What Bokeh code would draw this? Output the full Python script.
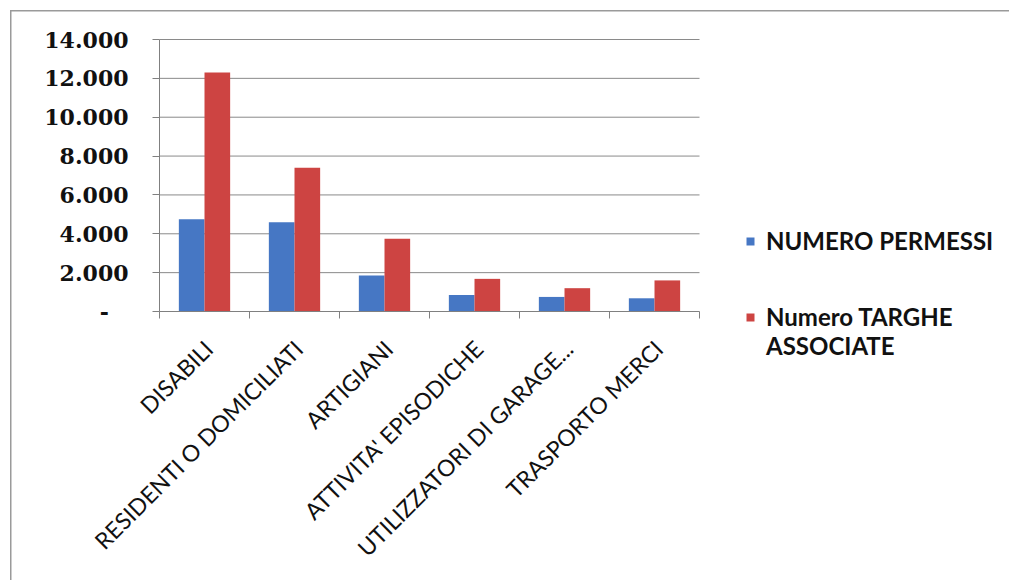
import numpy as np
from bokeh.plotting import figure
from bokeh.models import FixedTicker, Legend, LegendItem, Range1d, InlineStyleSheet
from bokeh.core.properties import value
from bokeh.embed import file_html
from bokeh.resources import INLINE

categories = ["DISABILI", "RESIDENTI O DOMICILIATI", "ARTIGIANI",
              "ATTIVITA' EPISODICHE", "UTILIZZATORI DI GARAGE...", "TRASPORTO MERCI"]
permessi = [4750, 4600, 1850, 850, 750, 680]
targhe = [12300, 7400, 3750, 1680, 1200, 1600]
series1_name = "NUMERO PERMESSI"
series2_lines = ["Numero TARGHE", "ASSOCIATE"]
y_ticks = [0, 2000, 4000, 6000, 8000, 10000, 12000, 14000]
y_tick_labels = ["-\u00a0\u00a0\u2009", "2.000", "4.000", "6.000", "8.000", "10.000", "12.000", "14.000"]

BLUE = "#4677c4"
RED = "#cd4442"
AXIS = "#808080"
GRID = "#8a8a8a"

# ---- layout (pixels) ----
W, H = 1009, 580
FL, FB = 30, 12              # left / bottom borders -> frame spans x 30..1009, y 0..568
AX_L, AX_R = 159, 699        # pixel span of the category axis
AX_T, AX_B = 39, 311         # pixel position of y max / y = 0
YMAX = 14000

n = len(categories)
centers = [i + 0.5 for i in range(n)]
bw = 0.285
ppx = (AX_R - AX_L) / n
ppy = (AX_B - AX_T) / YMAX
x_range = Range1d(-(AX_L - FL) / ppx, (W - AX_L) / ppx)
y_range = Range1d(-((H - FB) - AX_B) / ppy, YMAX + AX_T / ppy)

p = figure(width=W, height=H, x_range=x_range, y_range=y_range,
           output_backend="svg", toolbar_location=None,
           min_border_left=FL, min_border_right=0, min_border_top=0, min_border_bottom=FB)
p.outline_line_color = None
p.background_fill_alpha = 0
p.border_fill_alpha = 0
p.xgrid.grid_line_color = None
p.ygrid.grid_line_color = None

# horizontal gridlines, limited to the category span
grid_vals = y_ticks[1:]
p.segment(x0=[0] * len(grid_vals), x1=[n] * len(grid_vals), y0=grid_vals, y1=grid_vals,
          line_color=GRID, line_width=1)

r1 = p.vbar(x=[c - bw / 2 for c in centers], top=permessi, width=bw, fill_color=BLUE, line_color=None)
r2 = p.vbar(x=[c + bw / 2 for c in centers], top=targhe, width=bw, fill_color=RED, line_color=None)
blank = p.vbar(x=[], top=[], width=bw, fill_alpha=0, line_alpha=0)

# y axis (line + ticks at x = 0); labels drawn as text
p.yaxis.fixed_location = 0
p.yaxis.bounds = (0, YMAX)
p.yaxis.ticker = FixedTicker(ticks=y_ticks)
p.yaxis.major_label_text_font_size = "1px"
p.yaxis.major_label_text_alpha = 0
p.yaxis.major_label_standoff = 0
p.yaxis.major_tick_out = 7
p.yaxis.major_tick_in = 0
p.yaxis.major_tick_line_color = AXIS
p.yaxis.axis_line_color = AXIS
p.yaxis.minor_tick_line_color = None

# x axis (line + ticks between categories at y = 0)
p.xaxis.fixed_location = 0
p.xaxis.bounds = (0, n)
p.xaxis.ticker = FixedTicker(ticks=centers, minor_ticks=list(range(n + 1)))
p.xaxis.major_label_text_font_size = "1px"
p.xaxis.major_label_text_alpha = 0
p.xaxis.major_label_standoff = 0
p.xaxis.major_tick_line_color = None
p.xaxis.minor_tick_line_color = AXIS
p.xaxis.minor_tick_out = 7
p.xaxis.minor_tick_in = 0
p.xaxis.axis_line_color = AXIS

# tick labels
p.text(x=[0] * len(y_ticks), y=y_ticks, text=y_tick_labels, x_offset=-31,
       text_align="right", text_baseline="middle",
       text_font=value("DejaVu Serif"), text_font_style="bold",
       text_font_size=value("22px"), text_color="#111111")
p.text(x=centers, y=[0] * n, text=categories, angle=np.pi / 4, x_offset=4, y_offset=33,
       text_align="right", text_baseline="middle",
       text_font=value("Lato"), text_font_size=value("23px"), text_color="#111111")

def make_legend(items, loc):
    lg = Legend(items=items, location=loc, orientation="vertical")
    lg.padding = 0
    lg.margin = 0
    lg.spacing = 0
    lg.border_line_color = None
    lg.background_fill_alpha = 0
    lg.glyph_width = 10
    lg.glyph_height = 10
    lg.label_standoff = 11
    lg.label_text_font = "Lato"
    lg.label_text_font_style = "bold"
    lg.label_text_font_size = "24px"
    lg.label_text_color = "#111111"
    return lg

LEG_X = 745 - FL
p.add_layout(make_legend([LegendItem(label=series1_name, renderers=[r1])],
                         (LEG_X, (H - FB) - 255)), "center")
p.add_layout(make_legend([LegendItem(label=series2_lines[0], renderers=[r2]),
                          LegendItem(label=series2_lines[1], renderers=[blank])],
                         (LEG_X, (H - FB) - 360)), "center")

p.stylesheets = [InlineStyleSheet(css="""
:host { background: #ffffff; box-shadow: inset 10px 10px 0 0 #ffffff, inset 11.5px 11.5px 0 0 #9a9a9a; }
""")]

open("out.html", "w").write(file_html(p, INLINE))
